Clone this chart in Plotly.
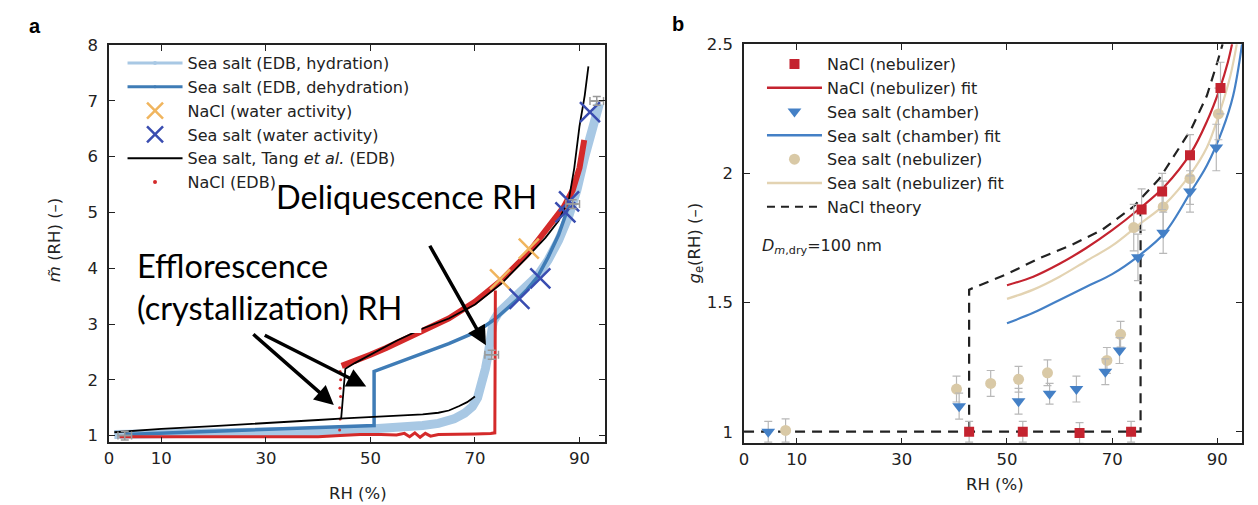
import plotly.graph_objects as go

W, H = 1258, 505
def px(x): return x / W
def py(y): return 1 - y / H

# ---------------- Panel a data ----------------
hyd_x = [1, 10, 20, 30, 40, 50, 55, 60, 63, 66, 68, 69.5, 70.5, 71.3, 72, 72.5, 73, 73.5, 74.5, 76, 78, 80, 82, 84, 86, 88, 89.5, 91, 92.5, 93.8]
hyd_y = [1.02, 1.03, 1.04, 1.06, 1.08, 1.12, 1.14, 1.18, 1.22, 1.3, 1.4, 1.52, 1.68, 1.9, 2.2, 2.45, 2.75, 3.05, 3.2, 3.33, 3.48, 3.65, 3.87, 4.15, 4.5, 4.95, 5.4, 6.0, 6.55, 6.95]

deh_x = [88.8, 87.5, 86, 84, 82, 80, 78, 76, 74, 72, 70, 65, 60, 55, 51, 50.7, 50.7, 45, 40, 30, 20, 10, 3]
deh_y = [5.5, 5.0, 4.6, 4.2, 3.85, 3.62, 3.43, 3.26, 3.1, 2.97, 2.85, 2.65, 2.48, 2.3, 2.17, 2.15, 1.18, 1.16, 1.14, 1.1, 1.07, 1.04, 1.02]

nacl_up_x = [44.5, 46, 48, 50, 53, 56, 60, 65, 70, 75, 80, 83, 85, 87, 88.7, 90, 90.9]
nacl_up_y = [2.25, 2.3, 2.37, 2.45, 2.57, 2.7, 2.87, 3.1, 3.4, 3.78, 4.25, 4.6, 4.85, 5.1, 5.4, 5.8, 6.3]

nacl_lo_x = [2, 10, 20, 30, 40, 44.2, 48, 52, 55, 56.5, 57.5, 58.5, 59.5, 60.5, 61.5, 63, 66, 70, 73.0, 73.8, 73.9]
nacl_lo_y = [0.98, 0.98, 0.97, 0.97, 0.98, 1.0, 1.02, 1.02, 1.01, 1.04, 0.98, 1.05, 0.97, 1.04, 0.99, 1.02, 1.02, 1.03, 1.04, 1.05, 3.6]

nacl_eff_x = [44.1, 44.2, 44.1, 44.3, 44.2, 44.3, 44.2]
nacl_eff_y = [1.1, 1.3, 1.5, 1.7, 1.85, 2.0, 2.15]

tang_lo_x = [1, 5, 10, 20, 30, 40, 45, 50, 55, 60, 63, 65, 67, 68.5, 70]
tang_lo_y = [1.06, 1.09, 1.12, 1.17, 1.22, 1.28, 1.31, 1.33, 1.35, 1.38, 1.41, 1.45, 1.53, 1.6, 1.7]
tang_up_x = [44.4, 45.2, 47, 50, 55, 60, 65, 70, 75, 80, 83.5, 86, 88, 89, 90, 91, 91.7]
tang_up_y = [1.31, 2.2, 2.3, 2.45, 2.7, 2.92, 3.1, 3.35, 3.72, 4.2, 4.55, 4.85, 5.25, 5.8, 6.55, 7.1, 7.62]

wa_nacl_x = [74.8, 80.3]
wa_nacl_y = [3.8, 4.35]
wa_sea_x = [78.5, 82.5, 87.3, 88.0, 92.0]
wa_sea_y = [3.45, 3.82, 5.0, 5.2, 6.8]

gray_x = [3, 73.2, 88.7, 93.3]
gray_y = [1.0, 2.45, 5.15, 7.0]

# ---------------- Panel b data ----------------
nacl_neb_x = [42.8, 53, 63.8, 73.6, 75.6, 79.5, 84.8, 90.6]
nacl_neb_y = [1.0, 1.0, 0.995, 1.0, 1.86, 1.93, 2.07, 2.33]
nacl_neb_e = [0.04, 0.04, 0.04, 0.04, 0.08, 0.07, 0.08, 0.1]

sea_ch_x = [4.6, 40.9, 52.2, 58.1, 63.2, 68.7, 71.4, 74.9, 79.7, 84.8, 89.8]
sea_ch_y = [1.0, 1.099, 1.118, 1.147, 1.165, 1.232, 1.314, 1.675, 1.77, 1.93, 2.10]
sea_ch_e = [0.04, 0.05, 0.05, 0.04, 0.05, 0.05, 0.05, 0.09, 0.08, 0.08, 0.09]

sea_neb_x = [7.9, 40.4, 46.9, 52.2, 57.7, 69.0, 71.6, 74.1, 79.7, 84.8, 90.2]
sea_neb_y = [1.005, 1.165, 1.187, 1.203, 1.228, 1.276, 1.377, 1.79, 1.87, 1.98, 2.23]
sea_neb_e = [0.045, 0.05, 0.05, 0.05, 0.05, 0.05, 0.05, 0.09, 0.1, 0.1, 0.1]

fit_red_x = [50, 55, 60, 65, 70, 75, 80, 85, 88, 90.5, 92, 92.8]
fit_red_y = [1.567, 1.6, 1.65, 1.71, 1.78, 1.86, 1.95, 2.08, 2.2, 2.33, 2.43, 2.5]
fit_tan_x = [50, 55, 60, 65, 70, 75, 80, 85, 88, 90.5, 92.5, 93.7]
fit_tan_y = [1.514, 1.55, 1.6, 1.66, 1.72, 1.8, 1.88, 2.0, 2.1, 2.24, 2.38, 2.5]
fit_blue_x = [50, 55, 60, 65, 70, 75, 80, 85, 88, 91, 93, 94.7]
fit_blue_y = [1.42, 1.46, 1.51, 1.56, 1.61, 1.68, 1.77, 1.93, 2.03, 2.17, 2.3, 2.5]

theory_x = [0, 75.4, 75.4, None, 42.8, 42.8, 50, 56, 62, 68, 74, 79, 85, 88, 90, 91]
theory_y = [1, 1, 1.9, None, 1, 1.55, 1.61, 1.67, 1.72, 1.78, 1.87, 1.98, 2.17, 2.3, 2.43, 2.5]

# colours
LB = "#a8c8e4"; DB = "#3f7cb6"; RED = "#d42a2a"; ORG = "#f0b55e"; XB = "#3a4db0"
R2 = "#c4232f"; B2 = "#4480c6"; T2 = "#d9c9a6"; T2L = "#e3d3b2"; EBC = "#b8b8b8"

FONT = "DejaVu Sans, Verdana, sans-serif"

fig = go.Figure()
A = dict(xaxis="x", yaxis="y")
B = dict(xaxis="x2", yaxis="y2")

# panel a traces
fig.add_trace(go.Scatter(x=hyd_x, y=hyd_y, mode="lines", line=dict(color=LB, width=9), showlegend=False, **A))
fig.add_trace(go.Scatter(x=deh_x, y=deh_y, mode="lines", line=dict(color=DB, width=3.5), showlegend=False, **A))
fig.add_trace(go.Scatter(x=nacl_lo_x, y=nacl_lo_y, mode="lines", line=dict(color=RED, width=3), showlegend=False, **A))
fig.add_trace(go.Scatter(x=nacl_up_x, y=nacl_up_y, mode="lines", line=dict(color=RED, width=6), showlegend=False, **A))
fig.add_trace(go.Scatter(x=nacl_eff_x, y=nacl_eff_y, mode="markers", marker=dict(color=RED, size=3), showlegend=False, **A))
fig.add_trace(go.Scatter(x=tang_lo_x, y=tang_lo_y, mode="lines", line=dict(color="black", width=1.8), showlegend=False, **A))
fig.add_trace(go.Scatter(x=tang_up_x, y=tang_up_y, mode="lines", line=dict(color="black", width=1.8), showlegend=False, **A))
fig.add_trace(go.Scatter(x=wa_nacl_x, y=wa_nacl_y, mode="markers",
                         marker=dict(symbol="x-thin", size=20, color=ORG, line=dict(color=ORG, width=2.5)), showlegend=False, **A))
fig.add_trace(go.Scatter(x=wa_sea_x, y=wa_sea_y, mode="markers",
                         marker=dict(symbol="x-thin", size=20, color=XB, line=dict(color=XB, width=2.5)), showlegend=False, **A))
fig.add_trace(go.Scatter(x=gray_x, y=gray_y, mode="markers",
                         marker=dict(symbol="line-ew", size=8, color="#999", line=dict(color="#999", width=1.5)),
                         error_x=dict(type="constant", value=1.3, color="#999", thickness=1.5, width=4),
                         error_y=dict(type="constant", value=0.08, color="#999", thickness=1.5, width=4),
                         showlegend=False, **A))

# legend a
leg_a = [
    ("Sea salt (EDB, hydration)", dict(mode="lines+markers", line=dict(color=LB, width=3), marker=dict(color=LB, size=4))),
    ("Sea salt (EDB, dehydration)", dict(mode="lines+markers", line=dict(color=DB, width=3), marker=dict(color=DB, size=3))),
    ("NaCl (water activity)", dict(mode="markers", marker=dict(symbol="x-thin", size=18, color=ORG, line=dict(color=ORG, width=2.5)))),
    ("Sea salt (water activity)", dict(mode="markers", marker=dict(symbol="x-thin", size=18, color=XB, line=dict(color=XB, width=2.5)))),
    ("Sea salt, Tang <i>et al.</i> (EDB)", dict(mode="lines", line=dict(color="black", width=2))),
    ("NaCl (EDB)", dict(mode="markers", marker=dict(color=RED, size=4))),
]
for name, kw in leg_a:
    fig.add_trace(go.Scatter(x=[None], y=[None], name=name, legend="legend", **kw, **A))

# panel b traces
fig.add_trace(go.Scatter(x=theory_x, y=theory_y, mode="lines", line=dict(color="#222", width=2.2, dash="10px,7px"), showlegend=False, **B))
fig.add_trace(go.Scatter(x=fit_tan_x, y=fit_tan_y, mode="lines", line=dict(color=T2L, width=2.2, shape="spline"), showlegend=False, **B))
fig.add_trace(go.Scatter(x=fit_blue_x, y=fit_blue_y, mode="lines", line=dict(color=B2, width=2.2, shape="spline"), showlegend=False, **B))
fig.add_trace(go.Scatter(x=fit_red_x, y=fit_red_y, mode="lines", line=dict(color=R2, width=2.2, shape="spline"), showlegend=False, **B))
fig.add_trace(go.Scatter(x=sea_neb_x, y=sea_neb_y, mode="markers", marker=dict(symbol="circle", size=11, color=T2),
                         error_y=dict(type="data", array=sea_neb_e, color=EBC, thickness=1.2, width=4), showlegend=False, **B))
fig.add_trace(go.Scatter(x=sea_ch_x, y=sea_ch_y, mode="markers", marker=dict(symbol="triangle-down", size=12, color=B2),
                         error_y=dict(type="data", array=sea_ch_e, color=EBC, thickness=1.2, width=4), showlegend=False, **B))
fig.add_trace(go.Scatter(x=nacl_neb_x, y=nacl_neb_y, mode="markers", marker=dict(symbol="square", size=10, color=R2),
                         error_y=dict(type="data", array=nacl_neb_e, color=EBC, thickness=1.2, width=4), showlegend=False, **B))

leg_b = [
    ("NaCl (nebulizer)", dict(mode="markers", marker=dict(symbol="square", size=10, color=R2))),
    ("NaCl (nebulizer) fit", dict(mode="lines", line=dict(color=R2, width=2.5))),
    ("Sea salt (chamber)", dict(mode="markers", marker=dict(symbol="triangle-down", size=12, color=B2))),
    ("Sea salt (chamber) fit", dict(mode="lines", line=dict(color=B2, width=2.5))),
    ("Sea salt (nebulizer)", dict(mode="markers", marker=dict(symbol="circle", size=11, color=T2))),
    ("Sea salt (nebulizer) fit", dict(mode="lines", line=dict(color=T2L, width=2.5))),
    ("NaCl theory", dict(mode="lines", line=dict(color="#222", width=2.2, dash="8px,6px"))),
]
for name, kw in leg_b:
    fig.add_trace(go.Scatter(x=[None], y=[None], name=name, legend="legend2", **kw, **B))

TF = dict(family=FONT, size=16.5, color="#222")
ax_common = dict(showline=True, linecolor="#222", linewidth=1.6, mirror="allticks", ticks="inside",
                 ticklen=6, tickwidth=1.4, tickcolor="#222", showgrid=False, zeroline=False,
                 tickfont=TF)

IW = 55
fig.update_layout(
    width=W, height=H, autosize=False, margin=dict(l=0, r=0, t=0, b=0),
    paper_bgcolor="white", plot_bgcolor="white",
    font=dict(family=FONT, color="#222"),
    xaxis=dict(domain=[px(104.5), px(602)], range=[0, 94.8], tickvals=[0, 10, 30, 50, 70, 90], anchor="y", **ax_common),
    yaxis=dict(domain=[py(444), py(37)], range=[0.8775, 8.0], tickvals=[1, 2, 3, 4, 5, 6, 7, 8], anchor="x",
               ticklabelstandoff=6, **ax_common),
    xaxis2=dict(domain=[px(742), px(1242)], range=[0, 94.7], tickvals=[0, 10, 30, 50, 70, 90], anchor="y2", **ax_common),
    yaxis2=dict(domain=[py(445), py(36)], range=[0.9547, 2.5], tickvals=[1, 1.5, 2, 2.5], ticktext=["1", "1.5", "2", "2.5"], anchor="x2",
                ticklabelstandoff=6, **ax_common),
    legend=dict(x=px(143 - (IW - 30)), y=py(38), xanchor="left", yanchor="top", bgcolor="rgba(0,0,0,0)",
                font=dict(size=16, color="#222"), tracegroupgap=0, itemwidth=IW),
    legend2=dict(x=px(785 - (IW - 30)), y=py(39), xanchor="left", yanchor="top", bgcolor="rgba(0,0,0,0)",
                 font=dict(size=16, color="#222"), tracegroupgap=0, itemwidth=IW),
)

# white box behind efflorescence label
fig.add_shape(type="rect", xref="paper", yref="paper", x0=px(128), x1=px(418), y0=py(332), y1=py(245),
              fillcolor="white", line=dict(width=0), layer="above")

ann = []
BIG = dict(family="Lato, Open Sans, sans-serif", size=32.5, color="black")
P = dict(xref="paper", yref="paper", showarrow=False)
ann.append(dict(text="Deliquescence RH", x=px(270), y=py(192), xanchor="left", yanchor="middle", font=BIG, **P))
ann.append(dict(text="Efflorescence<br>(crystallization) RH", x=px(131), y=py(284), xanchor="left", yanchor="middle",
                align="left", font=BIG, **P))
# arrows
for hx, hy, axo, ayo in [(72.1, 2.62, -57, -101), (43.0, 1.55, -82, -72), (49.2, 1.88, -103, -52)]:
    ann.append(dict(x=hx, y=hy, xref="x", yref="y", ax=axo, ay=ayo, text="", showarrow=True,
                    arrowhead=2, arrowsize=1.1, arrowwidth=3.5, arrowcolor="black"))
AT = dict(size=16.5, color="#222", family=FONT)
ann.append(dict(text="<i>m̃</i> (RH) (–)", x=px(50), y=py(237), xanchor="center", yanchor="middle", textangle=-90, font=AT, **P))
ann.append(dict(text="RH (%)", x=px(354), y=py(496), xanchor="center", yanchor="middle", font=AT, **P))
ann.append(dict(text="<i>g</i><sub>e</sub>(RH) (–)", x=px(693), y=py(240), xanchor="center", yanchor="middle", textangle=-90, font=AT, **P))
ann.append(dict(text="RH (%)", x=px(994), y=py(487), xanchor="center", yanchor="middle", font=AT, **P))
ann.append(dict(text="<i>D</i><sub><i>m</i>,dry</sub>=100 nm", x=px(758), y=py(243), xanchor="left", yanchor="middle",
                font=dict(size=16, color="#222", family=FONT), **P))
ann.append(dict(text="<b>a</b>", x=px(30), y=py(17), xanchor="center", yanchor="middle", font=dict(size=20, color="black", family="Liberation Sans, Arial"), **P))
ann.append(dict(text="<b>b</b>", x=px(676), y=py(15), xanchor="center", yanchor="middle", font=dict(size=20, color="black", family="Liberation Sans, Arial"), **P))
fig.update_layout(annotations=ann)

fig.write_html("out.html")
